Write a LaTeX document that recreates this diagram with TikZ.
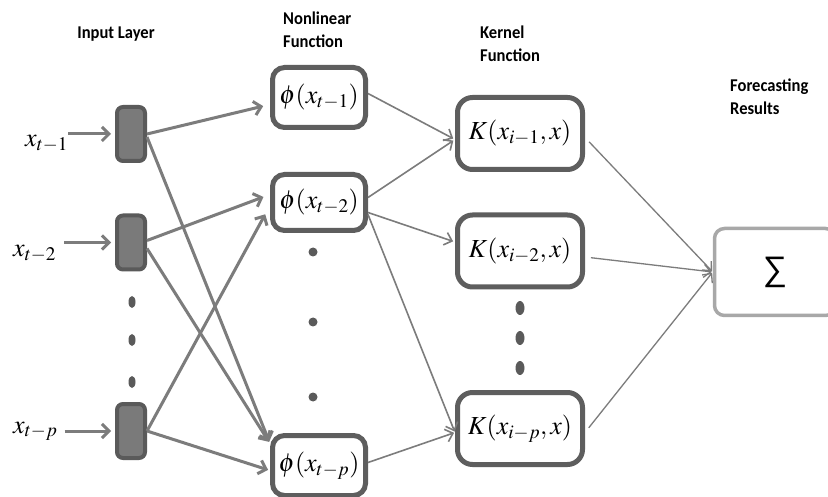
\documentclass[tikz,border=0pt]{standalone}
\usepackage{mathptmx}
\usepackage{fontspec}
\newfontfamily\headfont{Carlito}[FakeStretch=0.92]
\newfontfamily\sumfont{Liberation Sans}
\usetikzlibrary{arrows.meta}
\definecolor{boxgray}{HTML}{5E5E5E}
\definecolor{cellgray}{HTML}{5A5A5A}
\definecolor{cellfill}{HTML}{7A7A7A}
\definecolor{linkgray}{HTML}{7C7C7C}
\definecolor{sumgray}{HTML}{A8A8A8}
\newcommand{\mathsize}{\fontsize{26}{30}\selectfont}
\newcommand{\headsize}{\fontsize{18}{23}\selectfont}
\tikzstyle{inputcell}=[draw=cellgray, fill=cellfill, line width=4pt, rounded corners=6pt,
                       minimum width=28pt, minimum height=54pt, inner sep=0]
\tikzstyle{funcbox}=[draw=boxgray, fill=white, line width=5pt, rounded corners=12pt,
                     minimum width=93pt, inner sep=0, font=\mathsize]
\tikzstyle{kernbox}=[funcbox, rounded corners=15pt, minimum width=125pt, minimum height=72pt]
\tikzstyle{sumbox}=[draw=sumgray, line width=3.5pt, rounded corners=10pt, minimum width=121pt,
                    minimum height=87pt, font=\sumfont\fontsize{34}{36}\selectfont]
\tikzstyle{header}=[font=\headfont\bfseries\headsize, align=left, inner sep=0, anchor=north west]
\tikzstyle{xlabel}=[font=\mathsize, inner sep=0, anchor=base west]
\tikzstyle{feed}=[draw=linkgray, line width=3pt, -{Straight Barb[length=7pt, width=14pt]}]
\tikzstyle{link}=[draw=linkgray, line width=1.6pt, -{Straight Barb[length=7pt, width=13pt]}]
\tikzstyle{outlink}=[draw=linkgray, line width=1.3pt, -{Straight Barb[length=7pt, width=13pt]}]
\tikzstyle{kernelnet}=[x=1pt, y=-1pt]

\begin{document}
\begin{tikzpicture}[kernelnet]
        \clip (0, 0) rectangle (828, 497);
        \fill[white] (0, 0) rectangle (828, 497);
        \node[header, anchor=north] (hin) at (116, 27) {Input Layer};
        \node[header] (hnl) at (283, 12) {Nonlinear\\Function};
        \node[header] (hk) at (480, 26) {Kernel\\Function};
        \node[header] (hout) at (730, 79) {Forecasting\\Results};

        \node[inputcell] (in1) at (131, 134) {};
        \node[inputcell] (in2) at (131, 242.5) {};
        \node[inputcell] (inp) at (131, 431) {};
        \node[xlabel] (lab1) at (25, 147) {\(x_{t-1}\)};
        \node[xlabel] (lab2) at (13, 257) {\(x_{t-2}\)};
        \node[xlabel] (labp) at (13, 433) {\(x_{t-p}\)};

        \node[funcbox, minimum height=60pt] (nl1) at (319, 97.5) {\(\phi(x_{t-1})\)};
        \node[funcbox, minimum height=56pt] (nl2) at (319, 202.5) {\(\phi(x_{t-2})\)};
        \node[funcbox, minimum height=60pt] (nlp) at (319, 465.5) {\(\phi(x_{t-p})\)};

        \node[kernbox] (k1) at (520, 133.5) {\(K(x_{i-1}, x)\)};
        \node[kernbox] (k2) at (520, 251) {\(K(x_{i-2}, x)\)};
        \node[kernbox] (kp) at (520, 428.5) {\(K(x_{i-p}, x)\)};

        \node[sumbox] (sum) at (775, 272) {\symbol{"2211}};

        \fill[cellgray] (132, 302) ellipse [x radius=3.5pt, y radius=6pt];
        \fill[cellgray] (132, 340) ellipse [x radius=3.5pt, y radius=6pt];
        \fill[cellgray] (132, 382) ellipse [x radius=3.5pt, y radius=6pt];
        \fill[cellgray] (313, 252) circle [radius=4.5pt];
        \fill[cellgray] (313, 322) circle [radius=4.5pt];
        \fill[cellgray] (313, 397) circle [radius=4.5pt];
        \fill[cellgray] (520, 308) ellipse [x radius=4.5pt, y radius=7pt];
        \fill[cellgray] (520, 338) ellipse [x radius=4.5pt, y radius=7pt];
        \fill[cellgray] (520, 368) ellipse [x radius=4.5pt, y radius=7pt];

        \draw[feed, shorten >=4pt] (lab1.east |- in1.west) -- (in1.west);
        \draw[feed, shorten >=4pt] ([xshift=8pt]lab2.east |- in2.west) -- (in2.west);
        \draw[feed, shorten >=4pt] ([xshift=7pt]labp.east |- inp.west) -- (inp.west);

        \draw[feed, shorten >=7pt] (in1.east) -- ([yshift=-7pt]nl1.west);
        \draw[feed, shorten >=2pt] ([yshift=-3pt]in1.east) -- ([yshift=22pt]nlp.west);
        \draw[feed, shorten >=7pt] ([yshift=2pt]in2.east) -- ([yshift=8pt]nl2.west);
        \draw[feed, shorten >=2pt] ([yshift=-6pt]in2.east) -- ([yshift=22pt]nlp.west);
        \draw[feed, shorten >=10pt] (inp.east) -- ([yshift=-3pt]nl2.west);
        \draw[feed, shorten >=2pt] (inp.east) -- ([yshift=-5pt]nlp.west);

        \draw[link, shorten >=2pt] ([yshift=4pt]nl1.east) -- ([yshift=-6pt]k1.west);
        \draw[link, shorten >=2pt] ([yshift=5pt]nl2.east) -- ([yshift=-6pt]k1.west);
        \draw[link, shorten >=2pt] ([yshift=-10pt]nl2.east) -- ([yshift=9pt]k2.west);
        \draw[link, shorten >=1pt] ([yshift=-12pt]nl2.east) -- ([yshift=-4pt]kp.west);
        \draw[link, shorten >=1pt] ([yshift=3pt]nlp.east) -- ([yshift=-4pt]kp.west);

        \draw[outlink, shorten <=6pt, shorten >=1pt] ([yshift=-4pt]k1.east) -- (sum.west);
        \draw[outlink, shorten <=6pt, shorten >=1pt] ([yshift=-6pt]k2.east) -- (sum.west);
        \draw[outlink, shorten <=6pt, shorten >=1pt] ([yshift=-4pt]kp.east) -- (sum.west);
    \end{tikzpicture}
\end{document}
